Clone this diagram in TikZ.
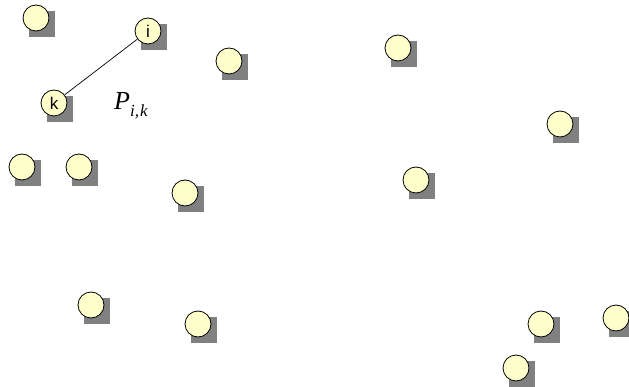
\documentclass[tikz,border=0pt]{standalone}
\usepackage{fontspec}
\setmainfont{Liberation Serif}
\setsansfont{Liberation Sans}
\usetikzlibrary{backgrounds,calc}
\definecolor{sitefill}{HTML}{FFFFCC}
\definecolor{shadowgray}{HTML}{808080}

\begin{document}
\begin{tikzpicture}[
  x=1pt, y=-1pt,
  site/.style={circle, draw=black, line width=0.8pt, fill=sitefill, minimum size=26pt, inner sep=0pt, font=\sffamily\fontsize{17}{17}\selectfont},
  dropbox/.style={fill=shadowgray},
  link/.style={draw=black, line width=0.7pt}
]
\useasboundingbox (0,0) rectangle (629,387);

\node[site] (p1) at (36,18) {};
\node[site] (i) at (148,31) {i};
\node[site] (k) at (54,103) {k};
\node[site] (p2) at (229,61) {};
\node[site] (p3) at (398,48) {};
\node[site] (p4) at (560,124) {};
\node[site] (p5) at (22,167) {};
\node[site] (p6) at (79,167) {};
\node[site] (p7) at (185,193) {};
\node[site] (p8) at (416,180) {};
\node[site] (p9) at (91,305) {};
\node[site] (p10) at (198,324) {};
\node[site] (p11) at (541,324) {};
\node[site] (p12) at (616,318) {};
\node[site] (p13) at (516,368) {};

\node[anchor=base west, inner sep=0pt] (pik) at (114,110)
  {\fontsize{26}{26}\selectfont\textit{P}\raisebox{-6.5pt}{\fontsize{17}{17}\selectfont\textit{i,\kern1pt k}}};

\draw[link] (i) -- (k);

% square shadows behind the sites
\begin{scope}[on background layer]
\foreach \n in {p1,i,k,p2,p3,p4,p5,p6,p7,p8,p9,p10,p11,p12,p13}
  \fill[dropbox] ($(\n.center)+(-7,-7)$) rectangle +(26,26);
\end{scope}
\end{tikzpicture}
\end{document}
